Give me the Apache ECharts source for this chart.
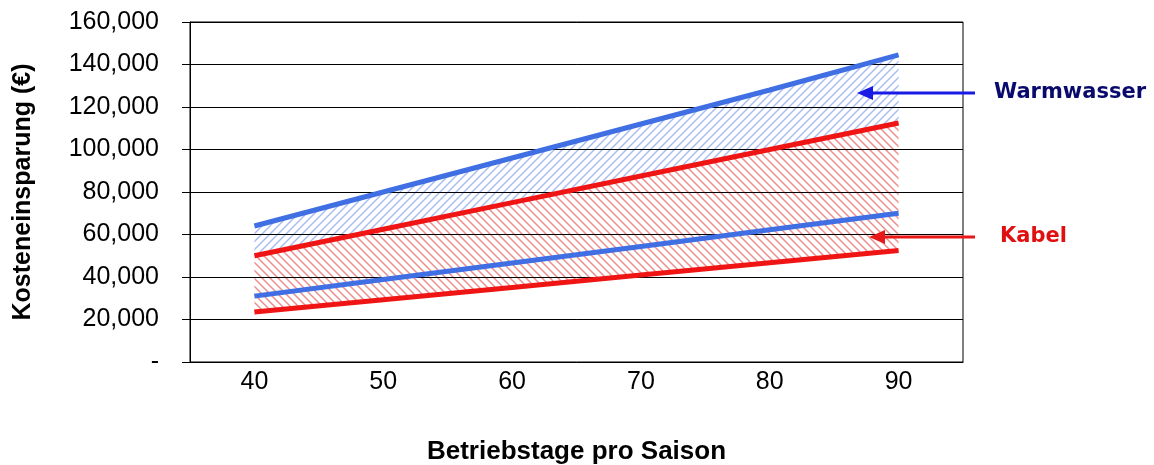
<!DOCTYPE html>
<html>
<head>
<meta charset="utf-8">
<script src="https://cdn.jsdelivr.net/npm/echarts@6/dist/echarts.min.js"></script>
<style>html,body{margin:0;padding:0;background:#fff;}#c{width:1154px;height:465px;}</style>
</head>
<body>
<div id="c"></div>
<script>
var categories = ['40', '50', '60', '70', '80', '90'];
var warmOben  = [64000, 80000, 96000, 112000, 128000, 144500];
var kabelOben = [50000, 62500, 75000, 87500, 100000, 112500];
var warmUnten = [31000, 38800, 46600, 54400, 62200, 70000];
var kabelUnten = [23500, 29300, 35100, 40900, 46700, 52500];
var yTicks = [20000, 40000, 60000, 80000, 100000, 120000, 140000, 160000];

function hatch(color, dir) {
  var s = 8;
  var cv = document.createElement('canvas');
  cv.width = s; cv.height = s;
  var ctx = cv.getContext('2d');
  ctx.strokeStyle = color;
  ctx.lineWidth = 1.5;
  ctx.beginPath();
  if (dir > 0) {
    ctx.moveTo(0, s); ctx.lineTo(s, 0);
    ctx.moveTo(-s/2, s/2); ctx.lineTo(s/2, -s/2);
    ctx.moveTo(s/2, s*1.5); ctx.lineTo(s*1.5, s/2);
  } else {
    ctx.moveTo(0, 0); ctx.lineTo(s, s);
    ctx.moveTo(-s/2, s/2); ctx.lineTo(s/2, s*1.5);
    ctx.moveTo(s/2, -s/2); ctx.lineTo(s*1.5, s/2);
  }
  ctx.stroke();
  return {image: cv, repeat: 'repeat'};
}

var redBand = kabelOben.map(function (v, i) { return v - kabelUnten[i]; });
var blueBand = warmOben.map(function (v, i) { return v - kabelOben[i]; });

var BLUE = '#3f6fe3';
var RED = '#f01515';
var FONT = 'Liberation Sans';

var chart = echarts.init(document.getElementById('c'));
chart.setOption({
  animation: false,
  grid: {left: 190, right: 191, top: 22, bottom: 103, show: true, borderColor: '#000', borderWidth: 1,
         containLabel: false, outerBoundsMode: 'none'},
  xAxis: {
    type: 'category',
    data: categories,
    boundaryGap: true,
    name: 'Betriebstage pro Saison',
    nameLocation: 'middle',
    nameGap: 77,
    nameTextStyle: {fontFamily: FONT, fontSize: 26, fontWeight: 'bold', color: '#000'},
    axisLine: {lineStyle: {color: '#000', width: 1}},
    axisTick: {length: 9, lineStyle: {color: '#000'}},
    axisLabel: {fontFamily: FONT, fontSize: 25, color: '#000', margin: 8}
  },
  yAxis: {
    type: 'value',
    min: 0, max: 160000, interval: 20000,
    name: 'Kosteneinsparung (€)',
    nameLocation: 'middle',
    nameGap: 154,
    nameTextStyle: {fontFamily: FONT, fontSize: 25, fontWeight: 'bold', color: '#000'},
    axisLine: {show: true, lineStyle: {color: '#000', width: 1}},
    axisTick: {show: true, length: 8, lineStyle: {color: '#000'}},
    splitLine: {lineStyle: {color: '#000', width: 1}},
    axisLabel: {
      fontFamily: FONT, fontSize: 25, color: '#000', margin: 31,
      formatter: function (v) { return v === 0 ? '-' : v.toLocaleString('en-US'); }
    }
  },
  series: [
    {type: 'line', stack: 'band', data: kabelUnten, symbol: 'none', lineStyle: {opacity: 0}, silent: true},
    {type: 'line', stack: 'band', data: redBand, symbol: 'none', lineStyle: {opacity: 0},
     areaStyle: {color: hatch('#ec8d8d', -1), opacity: 1}, silent: true},
    {type: 'line', stack: 'band', data: blueBand, symbol: 'none', lineStyle: {opacity: 0},
     areaStyle: {color: hatch('#a9bdf0', 1), opacity: 1}, silent: true},
    {type: 'line', data: [], z: 4, silent: true,
     markLine: {silent: true, symbol: 'none', label: {show: false},
       lineStyle: {color: '#000', width: 1, type: 'solid'},
       emphasis: {disabled: true},
       data: yTicks.map(function (v) { return {yAxis: v}; })}},
    {type: 'line', data: warmOben, symbol: 'none', lineStyle: {color: BLUE, width: 5}, z: 5},
    {type: 'line', data: kabelOben, symbol: 'none', lineStyle: {color: RED, width: 5}, z: 5},
    {type: 'line', data: warmUnten, symbol: 'none', lineStyle: {color: BLUE, width: 5}, z: 5},
    {type: 'line', data: kabelUnten, symbol: 'none', lineStyle: {color: RED, width: 5}, z: 5}
  ],
  graphic: [
    {type: 'line', shape: {x1: 975, y1: 93, x2: 870, y2: 93}, style: {stroke: '#1a1ae6', lineWidth: 3}, z: 10},
    {type: 'polygon', shape: {points: [[857, 93], [873, 86], [873, 100]]}, style: {fill: '#1a1ae6'}, z: 10},
    {type: 'text', x: 994, y: 93, style: {text: 'Warmwasser', fill: '#0a0a6e', font: 'bold 21px "DejaVu Sans"', verticalAlign: 'middle'}},
    {type: 'line', shape: {x1: 975, y1: 237, x2: 882, y2: 237}, style: {stroke: '#e81818', lineWidth: 3}, z: 10},
    {type: 'polygon', shape: {points: [[869, 237], [885, 230], [885, 244]]}, style: {fill: '#e81818'}, z: 10},
    {type: 'text', x: 1000, y: 237, style: {text: 'Kabel', fill: '#e01010', font: 'bold 21px "DejaVu Sans"', verticalAlign: 'middle'}}
  ]
});
</script>
</body>
</html>
